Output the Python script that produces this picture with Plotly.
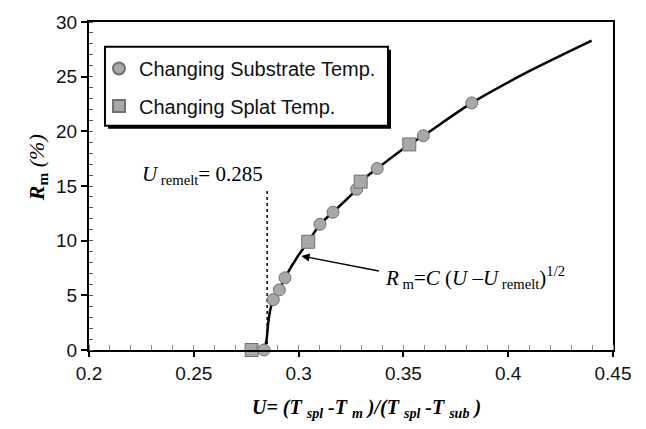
import plotly.graph_objects as go

# Remelting ratio measurements
subs_u = [0.2835, 0.2879, 0.2908, 0.2935, 0.3102, 0.3164, 0.3277, 0.3375, 0.3595, 0.3826]
subs_r = [0.0, 4.6, 5.5, 6.6, 11.5, 12.6, 14.7, 16.6, 19.6, 22.6]
splat_u = [0.2776, 0.3046, 0.3296, 0.3528]
splat_r = [0.0, 9.9, 15.4, 18.8]

# Fitted curve R_m = C (U - U_remelt)^1/2, vertices along the drawn line
curve_u = [0.2835, 0.2847, 0.2854, 0.2864, 0.2879, 0.2908, 0.2935, 0.2997, 0.3046,
           0.3102, 0.3164, 0.3277, 0.3296, 0.3375, 0.3528, 0.3595, 0.3826, 0.4100, 0.4398]
curve_r = [0.0, 0.9, 2.3, 3.6, 4.6, 5.5, 6.6, 8.6, 9.9,
           11.5, 12.6, 14.7, 15.4, 16.6, 18.8, 19.6, 22.6, 25.5, 28.3]

u_remelt = 0.285
remelt_line_top = 14.7

x_ticks = [0.2, 0.25, 0.3, 0.35, 0.4, 0.45]
y_ticks = [0, 5, 10, 15, 20, 25, 30]

SANS = "Liberation Sans, Arial, sans-serif"
SERIF = "Liberation Serif, Times New Roman, serif"
FILL = "#a8a8a8"
EDGE = "#707070"

fig = go.Figure()

fig.add_trace(go.Scatter(
    x=[u_remelt, u_remelt], y=[0, remelt_line_top], mode="lines",
    line=dict(color="black", width=1.5, dash="dot"), showlegend=False, hoverinfo="skip"))

fig.add_trace(go.Scatter(
    x=curve_u, y=curve_r, mode="lines",
    line=dict(color="black", width=2.5, shape="spline", smoothing=0.6),
    showlegend=False, cliponaxis=False))

fig.add_trace(go.Scatter(
    x=subs_u, y=subs_r, mode="markers", name="Changing Substrate Temp.",
    marker=dict(symbol="circle", size=12, color=FILL, line=dict(color=EDGE, width=1)),
    cliponaxis=False, legend="legend"))

fig.add_trace(go.Scatter(
    x=splat_u, y=splat_r, mode="markers", name="Changing Splat Temp.",
    marker=dict(symbol="square", size=13, color=FILL, line=dict(color=EDGE, width=1)),
    cliponaxis=False, legend="legend2"))

# legend frame with drop shadow
fig.add_shape(type="rect", xref="paper", yref="paper", x0=0.0363, x1=0.5763, y0=0.6747, y1=0.9157,
              fillcolor="black", line=dict(width=0), layer="above")
fig.add_shape(type="rect", xref="paper", yref="paper", x0=0.0305, x1=0.5706, y0=0.6837, y1=0.9247,
              fillcolor="white", line=dict(color="black", width=2), layer="above")

legend_style = dict(bgcolor="rgba(0,0,0,0)", borderwidth=0, xanchor="left", yanchor="middle",
                    itemsizing="constant",
                    font=dict(family=SANS, size=20, color="#111"))

fig.update_layout(
    width=646, height=429,
    margin=dict(l=89, r=33, t=18, b=79),
    paper_bgcolor="white", plot_bgcolor="white",
    legend=dict(x=0.019, y=0.8584, **legend_style),
    legend2=dict(x=0.019, y=0.744, **legend_style),
    xaxis=dict(
        range=[0.2, 0.45], tickvals=x_ticks, ticktext=[f"{v:g}" for v in x_ticks],
        showline=True, linecolor="black", linewidth=2, mirror=True,
        ticks="outside", ticklen=5, tickwidth=1.5, tickcolor="black",
        minor=dict(dtick=0.01, ticks="inside", ticklen=5, tickwidth=1, tickcolor="#888"),
        showgrid=False, zeroline=False,
        tickfont=dict(family=SANS, size=19, color="#111")),
    yaxis=dict(
        range=[0, 30], tickvals=y_ticks,
        showline=True, linecolor="black", linewidth=2, mirror=True,
        ticks="outside", ticklen=6, tickwidth=1.5, tickcolor="black",
        minor=dict(dtick=1, ticks="inside", ticklen=4, tickwidth=1, tickcolor="#555"),
        showgrid=False, zeroline=False,
        tickfont=dict(family=SANS, size=19, color="#111")),
)

fig.add_annotation(
    xref="paper", yref="paper", x=-0.128, y=0.557, textangle=-90, showarrow=False,
    text="<b><i>R</i></b><sub><b>m</b></sub><i> (%)</i>",
    font=dict(family=SERIF, size=22, color="black"))

fig.add_annotation(
    xref="paper", yref="paper", x=0.529, y=-0.178, showarrow=False, yanchor="middle",
    text="<b><i>U= (T <sub>spl</sub> -T <sub>m</sub> )/(T <sub>spl</sub> -T <sub>sub</sub> )</i></b>",
    font=dict(family=SERIF, size=20, color="black"))

fig.add_annotation(
    x=0.2245, y=16.0, xanchor="left", yanchor="middle", showarrow=False,
    text="<i>U</i><sub> remelt</sub>= 0.285",
    font=dict(family=SERIF, size=21, color="black"))

fig.add_annotation(
    x=0.3013, y=8.6, ax=0.339, ay=7.2, axref="x", ayref="y", text="",
    showarrow=True, arrowhead=2, arrowsize=1.1, arrowwidth=1.5, arrowcolor="black")

fig.add_annotation(
    x=0.3405, y=6.6, xanchor="left", yanchor="middle", showarrow=False,
    text="<i>R</i><sub> m</sub>=<i>C</i> (<i>U</i> –<i>U</i><sub> remelt</sub>)<sup>1/2</sup>",
    font=dict(family=SERIF, size=21, color="black"))

fig.write_html("out.html")
